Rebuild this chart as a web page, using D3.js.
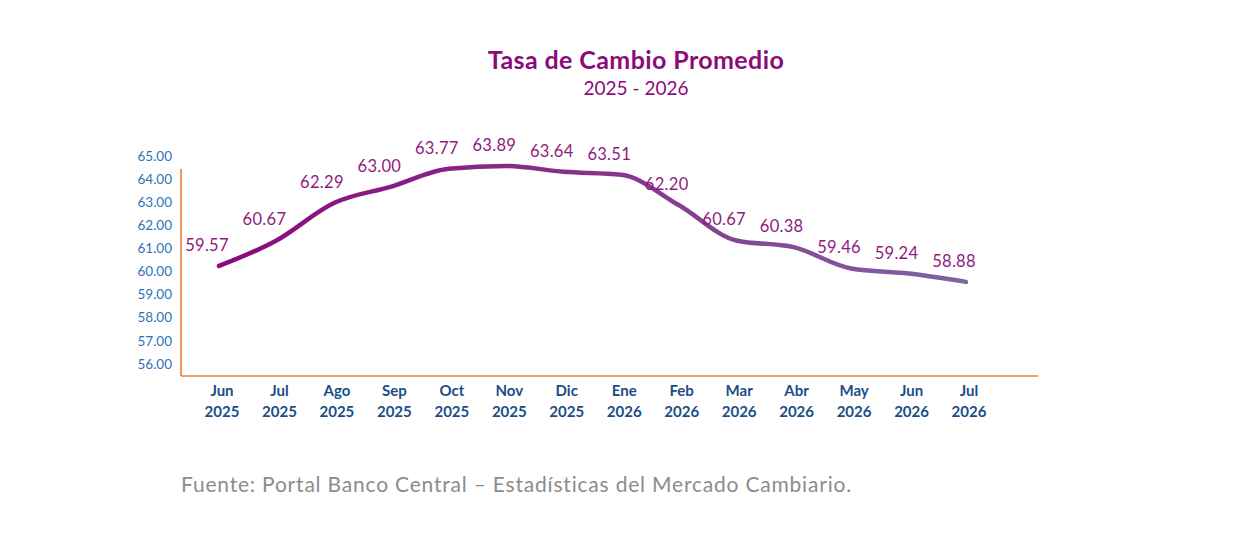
<!DOCTYPE html>
<html><head><meta charset="utf-8">
<script src="https://cdn.jsdelivr.net/npm/d3@7"></script>
<style>body{margin:0;background:#fff}svg{display:block}</style>
</head><body><svg id="c" width="1250" height="535"></svg>
<script>
const months = ["Jun","Jul","Ago","Sep","Oct","Nov","Dic","Ene","Feb","Mar","Abr","May","Jun","Jul"];
const years  = ["2025","2025","2025","2025","2025","2025","2025","2026","2026","2026","2026","2026","2026","2026"];
const values = [59.57,60.67,62.29,63.00,63.77,63.89,63.64,63.51,62.20,60.67,60.38,59.46,59.24,58.88];
const yTicks = [56,57,58,59,60,61,62,63,64,65];
const title = "Tasa de Cambio Promedio";
const subtitle = "2025 - 2026";
const source = "Fuente: Portal Banco Central \u2013 Estadísticas del Mercado Cambiario.";

const font = "Lato, 'Open Sans', sans-serif";
const svg = d3.select("#c");
const plot = {left:181, right:1038, top:169, bottom:376};

const x = d3.scalePoint().domain(d3.range(values.length)).range([219, 966]);
const y = d3.scaleLinear().domain([56,65]).range([348.5,140.3]);

// gradient
const defs = svg.append("defs");
const g = defs.append("linearGradient").attr("id","lg").attr("gradientUnits","userSpaceOnUse")
  .attr("x1",x(0)).attr("x2",x(values.length-1)).attr("y1",0).attr("y2",0);
g.append("stop").attr("offset","0").attr("stop-color","#8A0A7D");
g.append("stop").attr("offset","0.5").attr("stop-color","#86338B");
g.append("stop").attr("offset","1").attr("stop-color","#7E64A3");

// title
svg.append("text").attr("x",636).attr("y",69).attr("text-anchor","middle")
  .attr("font-family",font).attr("font-weight","bold").attr("font-size",25)
  .attr("letter-spacing",0.4).attr("fill","#8B0B7A").text(title);
svg.append("text").attr("x",636).attr("y",95).attr("text-anchor","middle")
  .attr("font-family",font).attr("font-size",19)
  .attr("fill","#8B0B7A").text(subtitle);

// axes lines
svg.append("line").attr("x1",plot.left).attr("x2",plot.left).attr("y1",plot.top).attr("y2",plot.bottom)
  .attr("stroke","#ED7D31").attr("stroke-width",1.6);
svg.append("line").attr("x1",plot.left).attr("x2",plot.right).attr("y1",plot.bottom).attr("y2",plot.bottom)
  .attr("stroke","#ED7D31").attr("stroke-width",1.6);

// y tick labels
svg.append("g").selectAll("text").data(yTicks).join("text")
  .attr("x",172).attr("y",d=>y(d)+15.5).attr("dy","0.35em").attr("text-anchor","end")
  .attr("font-family",font).attr("font-size",13.5).attr("fill","#2E74B5")
  .text(d=>d3.format(".2f")(d));

// x labels
const xl = svg.append("g").selectAll("text").data(months).join("text")
  .attr("text-anchor","middle").attr("font-family",font).attr("font-weight","bold")
  .attr("font-size",15).attr("fill","#1A4E85");
xl.append("tspan").attr("x",(d,i)=>x(i)+3).attr("y",396).text(d=>d);
xl.append("tspan").attr("x",(d,i)=>x(i)+3).attr("y",417).text((d,i)=>years[i]);

// line
const line = d3.line().x((d,i)=>x(i)).y(d=>y(d)).curve(d3.curveMonotoneX);
svg.append("path").datum(values).attr("d",line).attr("fill","none")
  .attr("stroke","url(#lg)").attr("stroke-width",4.5).attr("stroke-linecap","round");

// data labels
svg.append("g").selectAll("text").data(values).join("text")
  .attr("x",(d,i)=>x(i)-12).attr("y",d=>y(d)-15).attr("text-anchor","middle")
  .attr("font-family",font).attr("font-size",16.5).attr("letter-spacing",0.3).attr("fill","#8E1A80")
  .text(d=>d3.format(".2f")(d));

// source
svg.append("text").attr("x",181).attr("y",492)
  .attr("font-family",font).attr("font-size",21).attr("letter-spacing",0.8)
  .attr("fill","#8C8C8C").text(source);
</script></body></html>
